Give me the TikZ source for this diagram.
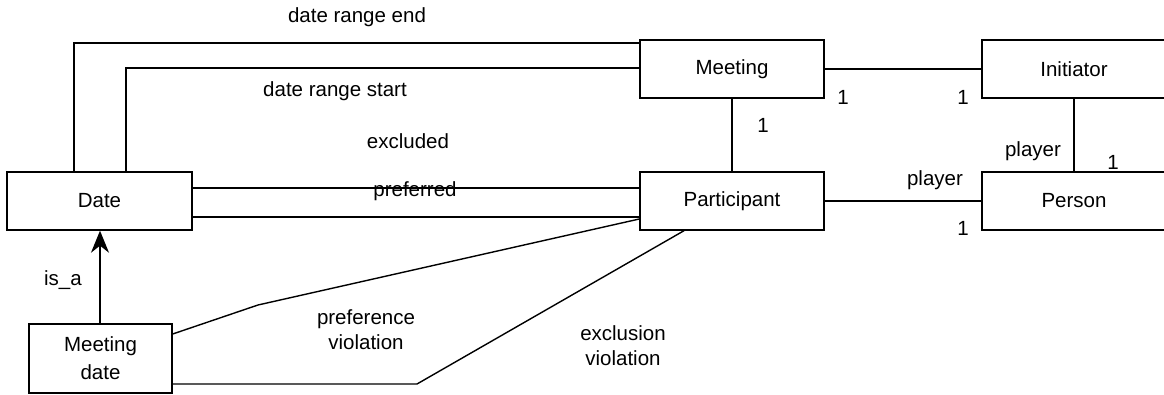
\documentclass[tikz,border=0pt]{standalone}
\usepackage{fontspec}
\setmainfont{Liberation Sans}
\usetikzlibrary{arrows.meta}
\begin{document}
\begin{tikzpicture}[x=1pt,y=-1pt,
  entity/.style={draw,line width=1.4pt,minimum width=184pt,minimum height=58pt,inner sep=0pt,font=\fontsize{20.5}{24}\selectfont},
  lbl/.style={inner sep=0pt,font=\fontsize{20.5}{25}\selectfont,align=center},
  conn/.style={line width=1.4pt},
  isa/.style={line width=1.4pt,-{Stealth[length=22pt,width=18pt,inset=7pt]}}]
\useasboundingbox (0,0) rectangle (1164,395);
\clip (0,0) rectangle (1164,395);
% entities
\node[entity,minimum width=185pt] (date) at (99.5,201) {Date};
\node[entity] (meeting) at (732,69) {Meeting};
\node[entity] (participant) at (732,201) {Participant};
\node[entity] (initiator) at (1074,69) {Initiator};
\node[entity] (person) at (1074,201) {Person};
\node[entity,minimum width=143pt,minimum height=69pt,align=center,font=\fontsize{20.5}{28}\selectfont] (mdate) at (100.5,358.5) {Meeting\\date};
% connectors
\draw[conn] (date.north -| 74,0) |- (meeting.west |- 0,43);
\draw[conn] (date.north -| 126,0) |- (meeting.west |- 0,68);
\draw[conn] (date.east |- 0,188) -- (participant.west |- 0,188);
\draw[conn] (date.east |- 0,217) -- (participant.west |- 0,217);
\draw[conn] (meeting.south) -- (participant.north);
\draw[conn] (meeting.east) -- (initiator.west);
\draw[conn] (participant.east) -- (person.west);
\draw[conn] (initiator.south) -- (person.north);
\draw[isa] (mdate.north -| 100,0) -- (date.south -| 100,0);
\draw[conn] (mdate.east |- 0,334) -- (258,305) -- (participant.west |- 0,219);
\draw[conn] (mdate.east |- 0,384) -- (417,384) -- (participant.south -| 684,0);
% labels
\node[lbl] (l1) at (357,17) {date range end};
\node[lbl] (l2) at (335,91) {date range start};
\node[lbl] (l3) at (408,141) {excluded};
\node[lbl] (l4) at (415,191) {preferred};
\node[lbl] (l5) at (763,125) {1};
\node[lbl] (l6) at (843,97) {1};
\node[lbl] (l7) at (963,97) {1};
\node[lbl] (l8) at (1033,151) {player};
\node[lbl] (l9) at (1113,162) {1};
\node[lbl] (l10) at (935,180) {player};
\node[lbl] (l11) at (963,228) {1};
\node[lbl] (l12) at (63,280) {is\_a};
\node[lbl] (l13) at (366,330) {preference\\violation};
\node[lbl] (l14) at (623,346) {exclusion\\violation};
\end{tikzpicture}
\end{document}
